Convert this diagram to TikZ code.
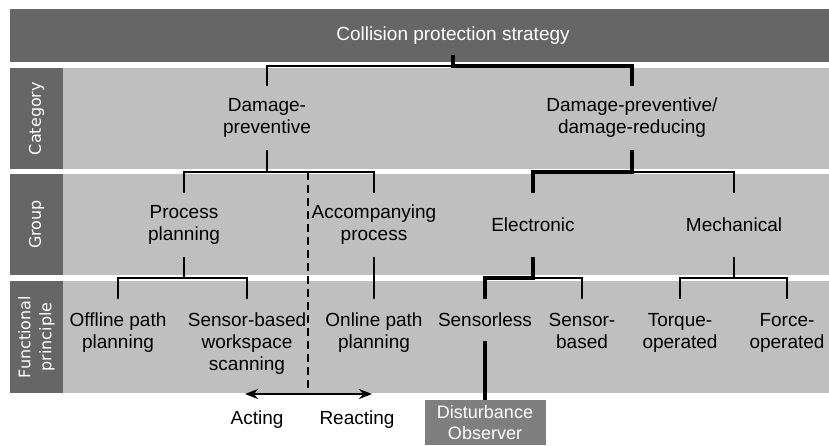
\documentclass[tikz,border=0pt]{standalone}
\usepackage{fontspec}
\setmainfont{Liberation Sans}
\newfontfamily\sidefont{DejaVu Sans}
\usetikzlibrary{arrows.meta}

\definecolor{headgray}{HTML}{666666}
\definecolor{bandgray}{HTML}{BFBFBF}
\definecolor{boxgray}{HTML}{7F7F7F}

\begin{document}
\begin{tikzpicture}[x=1pt,y=-1pt,
  txt/.style={font=\fontsize{19}{22}\selectfont, align=center, inner sep=0pt},
  lvl/.style={txt, minimum height=64pt},
  func/.style={txt, anchor=north, inner ysep=14pt},
  side/.style={font=\sidefont\fontsize{16}{21}\selectfont, text=white, align=center, rotate=90},
  thinline/.style={line width=1.7pt},
  boldline/.style={line width=4pt}]
  \useasboundingbox (0,0) rectangle (829,445);

  \def\leftx{10}
  \def\sidex{63}
  \def\rightx{829}

  % Draw bands
  \fill[headgray] (\leftx,9) rectangle (\rightx,62);
  \fill[headgray] (\leftx,68) rectangle (\sidex,169);
  \fill[bandgray] (\sidex,68) rectangle (\rightx,169);
  \fill[headgray] (\leftx,174) rectangle (\sidex,275);
  \fill[bandgray] (\sidex,174) rectangle (\rightx,275);
  \fill[headgray] (\leftx,281) rectangle (\sidex,393);
  \fill[bandgray] (\sidex,281) rectangle (\rightx,393);

  % Row labels
  \node[side] (category) at (36.5,118.5) {Category};
  \node[side] (group) at (36.5,224.5) {Group};
  \node[side] (principle) at (36.5,337) {Functional\\principle};

  % Tree nodes
  \node[txt, text=white, minimum height=38pt] (strategy) at (453,36) {Collision protection strategy};

  \node[lvl] (dprev) at (267,118) {Damage-\\preventive};
  \node[lvl] (dred) at (632,118) {Damage-preventive/\\damage-reducing};

  \node[lvl] (plan) at (184,225) {Process\\planning};
  \node[lvl] (accomp) at (374,225) {Accompanying\\process};
  \node[lvl] (elec) at (533,225) {Electronic};
  \node[lvl] (mech) at (734,225) {Mechanical};

  \node[func] (offline) at (118,299) {Offline path\\planning};
  \node[func] (scan) at (247,299) {Sensor-based\\workspace\\scanning};
  \node[func] (online) at (374,299) {Online path\\planning};
  \node[func] (sensorless) at (485,299) {Sensorless};
  \node[func] (sensor) at (582,299) {Sensor-\\based};
  \node[func] (torque) at (680,299) {Torque-\\operated};
  \node[func] (force) at (787,299) {Force-\\operated};

  \node[txt, fill=boxgray, text=white, minimum width=121pt, minimum height=45pt,
    font=\fontsize{18}{21}\selectfont] (observer) at (485,422.5) {Disturbance\\Observer};

  % Acting / reacting
  \node[txt] (acting) at (257,420) {Acting};
  \node[txt] (reacting) at (357,420) {Reacting};
  \coordinate (arrowleft) at (245,394);
  \coordinate (arrowright) at (372,394);
  \coordinate (splittop) at (308,172);
  \coordinate (splitbottom) at (308,391);
  \draw[line width=1.3pt, dash pattern=on 8pt off 5pt] (splittop) -- (splitbottom);
  \draw[thinline, {Stealth[length=13pt,width=10pt]}-{Stealth[length=13pt,width=10pt]}] (arrowleft) -- (arrowright);

  % Tree connectors
  \draw[thinline] (strategy.south) -- ++(0,11) -| (dprev.north);
  \draw[boldline] (strategy.south) -- ++(0,11) -| (dred.north);
  \draw[thinline] (dprev.south) -- ++(0,22) -| (plan.north);
  \draw[thinline] (dprev.south) -- ++(0,22) -| (accomp.north);
  \draw[thinline] (dred.south) -- ++(0,22) -| (mech.north);
  \draw[boldline] (dred.south) -- ++(0,22) -| (elec.north);
  \draw[thinline] (plan.south) -- ++(0,21) -| (offline.north);
  \draw[thinline] (plan.south) -- ++(0,21) -| (scan.north);
  \draw[thinline] (accomp.south) -- (online.north);
  \draw[thinline] (elec.south) -- ++(0,21) -| (sensor.north);
  \draw[boldline] (elec.south) -- ++(0,21) -| (sensorless.north);
  \draw[thinline] (mech.south) -- ++(0,21) -| (torque.north);
  \draw[thinline] (mech.south) -- ++(0,21) -| (force.north);
  \draw[boldline] (sensorless.south) -- (observer.north);
\end{tikzpicture}
\end{document}
